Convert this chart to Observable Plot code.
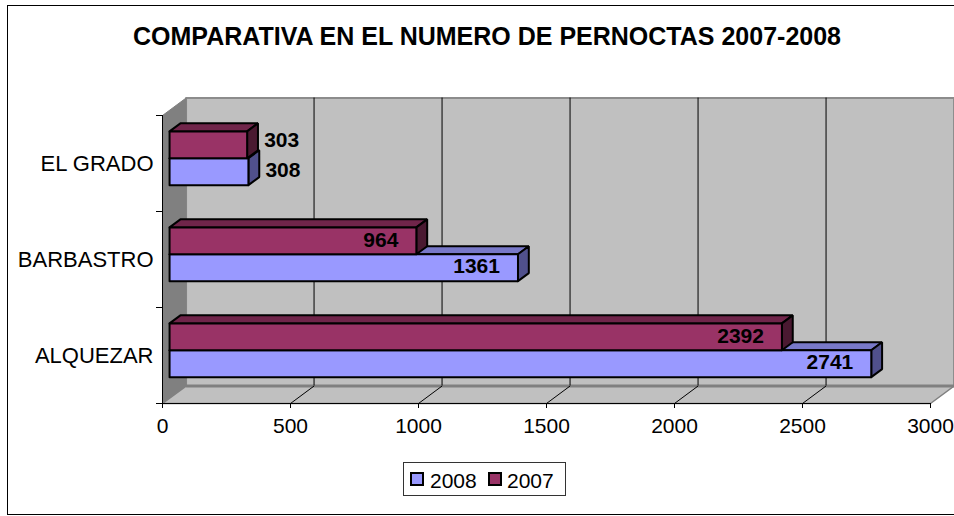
<!DOCTYPE html>
<html>
<head>
<meta charset="utf-8">
<script src="https://cdn.jsdelivr.net/npm/d3@7"></script>
<script src="https://cdn.jsdelivr.net/npm/@observablehq/plot@0.6"></script>
<style>
  html, body { margin: 0; padding: 0; background: #fff; }
  #wrap { position: relative; width: 954px; height: 516px; overflow: hidden; font-family: "Liberation Sans", Arial, sans-serif; color: #000; }
  #title { position: absolute; left: 0; top: 21px; width: 974px; text-align: center; font-weight: bold; font-size: 25px; line-height: 30px; white-space: nowrap; }
  #chart { position: absolute; left: 0; top: 60px; }
  #border { position: absolute; left: 7px; top: 5px; width: 970px; height: 508px; border: 1px solid #000; pointer-events: none; }
  #legend { position: absolute; left: 403px; top: 462px; width: 161px; height: 32px; border: 1px solid #333; background: #fff; }
  #legend .sw { position: absolute; top: 9px; width: 10px; height: 10px; border: 2px solid #000; }
  #legend .lb { position: absolute; top: 7px; font-size: 21px; line-height: 21px; }
</style>
</head>
<body>
<div id="wrap">
  <div id="title"></div>
  <div id="chart"></div>
  <div id="legend"></div>
  <div id="border"></div>
</div>
<script>
// ---- data ----
const titleText = "COMPARATIVA EN EL NUMERO DE PERNOCTAS 2007-2008";
const categories = ["EL GRADO", "BARBASTRO", "ALQUEZAR"]; // top to bottom
const seriesNames = ["2008", "2007"];
const values2008 = [308, 1361, 2741];
const values2007 = [303, 964, 2392];
const xTicks = [0, 500, 1000, 1500, 2000, 2500, 3000];

const colors = {
  "2008": { front: "#9999FF", top: "#7878C8", side: "#50508C" },
  "2007": { front: "#993366", top: "#70254A", side: "#4A1931" }
};

// ---- 3D projection helpers (in data units) ----
const X_MAX = 3000, N = categories.length;
const DX = 92, DU = 0.182;      // full depth offset in x-units / category-units
const F1 = 0.3, F2 = 0.76;      // bar front / back depth fractions
const slots = { "2008": [0.22, 0.5], "2007": [0.5, 0.78] };

function poly(key, pts, extra = {}) {
  const closed = [...pts, pts[0]];
  return closed.map(([x, u]) => ({ key, x, u, ...extra }));
}

// walls
const backWall = poly("back", [[DX, DU], [X_MAX + DX, DU], [X_MAX + DX, N + DU], [DX, N + DU]]);
const leftWall = poly("left", [[0, 0], [DX, DU], [DX, N + DU], [0, N]]);
const floor = poly("floor", [[0, 0], [X_MAX, 0], [X_MAX + DX, DU], [DX, DU]]);
const gridTicks = xTicks.slice(1, -1);

// bars
const faces = [];
const labels = [];
categories.forEach((cat, i) => {
  const ci = N - 1 - i;
  seriesNames.forEach(s => {
    const v = s === "2008" ? values2008[i] : values2007[i];
    const [a, b] = slots[s];
    const u0 = ci + a, u1 = ci + b;
    const x0 = 0;
    faces.push(...poly(`${cat}-${s}-top`, [[x0 + F1 * DX, u1 + F1 * DU], [v + F1 * DX, u1 + F1 * DU], [v + F2 * DX, u1 + F2 * DU], [x0 + F2 * DX, u1 + F2 * DU]], { s, face: "top" }));
    faces.push(...poly(`${cat}-${s}-side`, [[v + F1 * DX, u0 + F1 * DU], [v + F2 * DX, u0 + F2 * DU], [v + F2 * DX, u1 + F2 * DU], [v + F1 * DX, u1 + F1 * DU]], { s, face: "side" }));
    faces.push(...poly(`${cat}-${s}-front`, [[x0 + F1 * DX, u0 + F1 * DU], [v + F1 * DX, u0 + F1 * DU], [v + F1 * DX, u1 + F1 * DU], [x0 + F1 * DX, u1 + F1 * DU]], { s, face: "front" }));
    labels.push({ s, value: v, x: v + F1 * DX, u: (u0 + u1) / 2 + F1 * DU, inside: v > 500 });
  });
});

const barMarks = [];
seriesNames.forEach(s => {
  ["top", "side", "front"].forEach(f => {
    barMarks.push(Plot.line(faces.filter(d => d.s === s && d.face === f), {
      x: "x", y: "u", z: "key", fill: colors[s][f], stroke: "#000", strokeWidth: 2, strokeLinejoin: "miter"
    }));
  });
});

const font = '"Liberation Sans", Arial, sans-serif';

const chart = Plot.plot({
  width: 954,
  height: 390,
  marginTop: 55,
  marginBottom: 47,
  marginLeft: 162,
  marginRight: 24,
  x: { domain: [0, X_MAX], label: null },
  y: { domain: [0, N], label: null },
  style: { fontFamily: font, fontSize: "21px", background: "none", color: "#000", overflow: "visible" },
  marks: [
    Plot.line(backWall, { x: "x", y: "u", z: "key", fill: "#C0C0C0", stroke: "#8C8C8C", strokeWidth: 2 }),
    Plot.line(leftWall, { x: "x", y: "u", z: "key", fill: "#808080", stroke: "#808080", strokeWidth: 1 }),
    Plot.line(floor, { x: "x", y: "u", z: "key", fill: "#C0C0C0", stroke: "#808080", strokeWidth: 1.5 }),
    Plot.link([0], { x1: DX, y1: DU, x2: X_MAX + DX, y2: DU, stroke: "#808080", strokeWidth: 3 }),
    Plot.ruleX(gridTicks, { x: d => d + DX, y1: DU, y2: N + DU, stroke: "#000", strokeWidth: 1 }),
    Plot.link(gridTicks, { x1: d => d, y1: 0, x2: d => d + DX, y2: DU, stroke: "#000", strokeWidth: 1 }),
    ...barMarks,
    Plot.text(labels.filter(d => d.inside), { x: "x", y: "u", text: d => String(d.value), textAnchor: "end", dx: -18, dy: -1, fontWeight: "bold", fontSize: 21, fill: "#000" }),
    Plot.text(labels.filter(d => !d.inside && d.s === "2007"), { x: "x", y: "u", text: d => String(d.value), textAnchor: "start", dx: 17, dy: -5, fontWeight: "bold", fontSize: 21, fill: "#000" }),
    Plot.text(labels.filter(d => !d.inside && d.s === "2008"), { x: "x", y: "u", text: d => String(d.value), textAnchor: "start", dx: 17, dy: -1, fontWeight: "bold", fontSize: 21, fill: "#000" }),
    Plot.ruleX([0], { stroke: "#000", strokeWidth: 1 }),
    Plot.ruleY([0], { stroke: "#000", strokeWidth: 1 }),
    Plot.axisX({ ticks: xTicks, tickSize: 5, tickPadding: 10, tickFormat: d => String(d), fontSize: 21, stroke: "#000", label: null }),
    Plot.axisY({ ticks: [0, 1, 2, 3], tickSize: 6, tickFormat: () => "", stroke: "#000", label: null }),
    Plot.axisY({ ticks: categories.map((c, i) => N - 1 - i + 0.5), tickSize: 0, tickPadding: 9, tickFormat: u => categories[N - 1 - Math.floor(u)], fontSize: 22, label: null })
  ]
});
document.getElementById("chart").appendChild(chart);

document.getElementById("title").textContent = titleText;

const legend = document.getElementById("legend");
const legendPos = { "2008": [6, 26], "2007": [84, 103] };
seriesNames.forEach(s => {
  const sw = document.createElement("div");
  sw.className = "sw";
  sw.style.left = legendPos[s][0] + "px";
  sw.style.background = colors[s].front;
  legend.appendChild(sw);
  const lb = document.createElement("div");
  lb.className = "lb";
  lb.style.left = legendPos[s][1] + "px";
  lb.textContent = s;
  legend.appendChild(lb);
});
</script>
</body>
</html>
